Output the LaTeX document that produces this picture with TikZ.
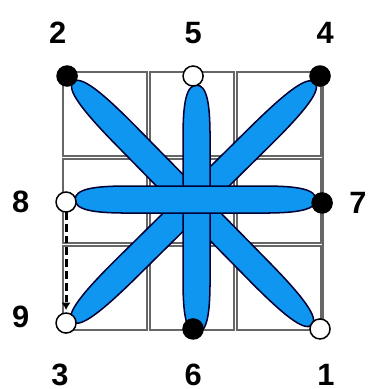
\documentclass[tikz,border=0pt]{standalone}
\usepackage{xcolor}
\usepackage{fontspec}
\usepackage{tikz}
\usetikzlibrary{arrows.meta,positioning}

\newfontfamily\numfont{Liberation Sans}
\definecolor{threadblue}{RGB}{14,150,240}

\tikzset{
  pics/petal/.style 2 args={code={
    \path[petal] (-#1,0) .. controls (-#1,0.12) and ({-#1+0.35*#2},0.157) .. ({-#1+#2},0.157)
      -- ({#1-#2},0.157) .. controls ({#1-0.35*#2},0.157) and (#1,0.12) .. (#1,0)
      .. controls (#1,-0.12) and ({#1-0.35*#2},-0.157) .. ({#1-#2},-0.157)
      -- ({-#1+#2},-0.157) .. controls ({-#1+0.35*#2},-0.157) and (-#1,-0.12) .. cycle;
  }}
}

\begin{document}
\begin{tikzpicture}[
  cell/.style={draw=black!60, line width=0.55pt},
  petal/.style={fill=threadblue, draw=black!80!blue, line width=0.5pt},
  hole/.style={circle, draw=black, line width=0.5pt, fill=#1,
               minimum size=0.233cm, inner sep=0pt, outer sep=0pt},
  hole/.default={white},
  num/.style={font=\numfont\bfseries\fontsize{10.2}{12}\selectfont,
              inner sep=0pt, outer sep=0pt},
  jump/.style={-{Latex[length=2.4pt, width=3pt]}, dash pattern=on 2.6pt off 1.3pt,
               line width=1pt, shorten >=1pt},
  node distance=0.3cm
]
  \useasboundingbox (-0.733,-0.686) rectangle (3.640,3.837);

  % the 3x3 grid of squares
  \foreach \i in {0,1,2}
    \foreach \j in {0,1,2}
      \draw[cell] ({\i*1.0115},{\j*1.0115}) rectangle +(0.977,0.977);
  \draw[cell] (3.02,0) -- (3.02,2.95);

  % stitches: diagonals first, then vertical, horizontal on top
  \foreach \cx/\cy/\ang/\half/\tap in {1.506/1.471/-45.5/1.98/0.9,
                                     1.518/1.488/44.6/1.98/0.9,
                                     1.552/1.407/90/1.44/0.6,
                                     1.540/1.517/0/1.40/0.6}
    \pic[rotate=\ang] at (\cx,\cy) {petal={\half}{\tap}};

  % needle holes
  \node[hole=black] (p2) at (0.047,2.953) {};
  \node[hole]       (p5) at (1.512,2.953) {};
  \node[hole=black] (p4) at (2.988,2.953) {};
  \node[hole]       (p8) at (0.035,1.488) {};
  \node[hole=black] (p7) at (3.012,1.477) {};
  \node[hole]       (p3) at (0.035,0.081) {};
  \node[hole=black] (p6) at (1.512,0.012) {};
  \node[hole]       (p1) at (2.988,0.012) {};

  % order of the stitches
  \node[num, above=0.26cm of p2, xshift=-1.1mm] (n2) {2};
  \node[num, above=0.26cm of p5] (n5) {5};
  \node[num, above=0.26cm of p4, xshift=0.6mm] (n4) {4};
  \node[num, left=0.31cm of p8] (n8) {8};
  \node[num, right=0.2cm of p7] (n7) {7};
  \node[num, left=0.31cm of p3, yshift=0.7mm] (n9) {9};
  \node[num, below=0.36cm of p3, xshift=-0.7mm] (n3) {3};
  \node[num, below=0.29cm of p6] (n6) {6};
  \node[num, below=0.29cm of p1, xshift=0.7mm] (n1) {1};

  \draw[jump] (p8) -- (p3);
\end{tikzpicture}
\end{document}
